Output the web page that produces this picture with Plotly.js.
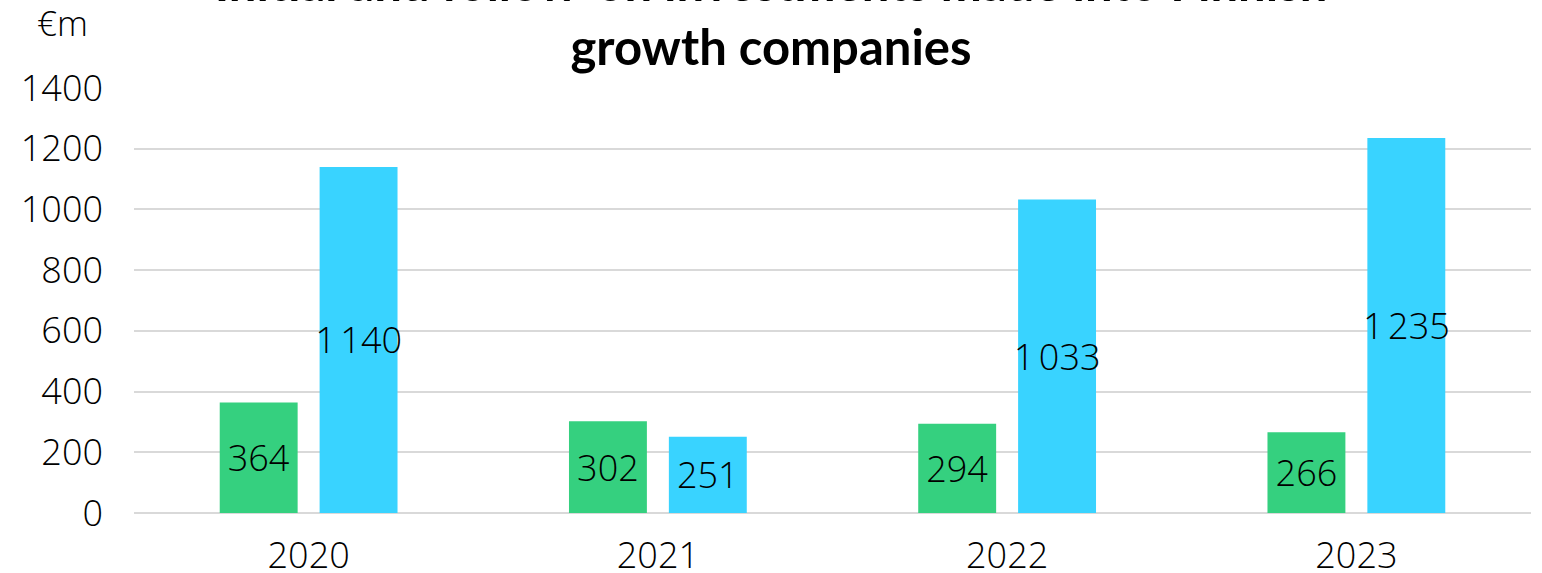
<!DOCTYPE html>
<html>
<head>
<meta charset="utf-8">
<script src="https://cdn.plot.ly/plotly-3.0.1.min.js"></script>
<style>html,body{margin:0;padding:0;background:#fff;}#chart{width:1542px;height:573px;}</style>
</head>
<body>
<div id="chart"></div>
<script>
const years = ['2020', '2021', '2022', '2023'];
const initialInvestments = [364, 302, 294, 266];
const followOnInvestments = [1140, 251, 1033, 1235];
const yTickValues = [0, 200, 400, 600, 800, 1000, 1200, 1400];
const titleText = 'Initial and follow-on investments made into Finnish<br>growth companies';
const unitLabel = '€m';

function fmt(v) {
  return v >= 1000 ? Math.floor(v / 1000) + '\u202F' + String(v % 1000).padStart(3, '0') : String(v);
}

const FONT = 'Open Sans, Lato, sans-serif';
const baseBar = {
  type: 'bar',
  x: years,
  textposition: 'inside',
  insidetextanchor: 'middle',
  constraintext: 'none',
  textangle: 0,
  insidetextfont: {family: FONT, size: 36, color: '#000', weight: 300},
  hoverinfo: 'none'
};

const data = [
  Object.assign({}, baseBar, {
    name: 'Initial',
    y: initialInvestments,
    text: initialInvestments.map(fmt),
    marker: {color: '#35D07F'}
  }),
  Object.assign({}, baseBar, {
    name: 'Follow-on',
    y: followOnInvestments,
    text: followOnInvestments.map(fmt),
    marker: {color: '#39D3FF'}
  })
];

const layout = {
  width: 1542, height: 573,
  margin: {l: 134, r: 11, t: 88, b: 60},
  paper_bgcolor: '#fff', plot_bgcolor: '#fff',
  showlegend: false,
  barmode: 'group',
  bargap: 0.428,
  bargroupgap: 0.22,
  font: {family: FONT, color: '#000'},
  title: {
    text: titleText,
    font: {family: 'Lato, sans-serif', size: 49, weight: 'bold', color: '#000'},
    x: 0.5, xref: 'container', xanchor: 'center',
    y: 0.998, yref: 'container', yanchor: 'middle'
  },
  xaxis: {
    type: 'category',
    showgrid: false, zeroline: false, showline: false,
    ticks: '',
    ticklabelstandoff: 18,
    tickfont: {family: FONT, size: 36, color: '#000', weight: 300}
  },
  yaxis: {
    range: [0, 1400],
    tickvals: yTickValues,
    ticktext: yTickValues.map(String),
    showgrid: true, gridcolor: '#d9d9d9', gridwidth: 2,
    zeroline: true, zerolinecolor: '#d9d9d9', zerolinewidth: 2,
    showline: false, ticks: '',
    ticklabelstandoff: 30,
    tickfont: {family: FONT, size: 36, color: '#000', weight: 300}
  },
  annotations: [{
    text: unitLabel, xref: 'paper', yref: 'paper', x: 0, y: 1,
    xshift: -72, yshift: 66,
    xanchor: 'center', yanchor: 'middle', showarrow: false,
    font: {family: FONT, size: 35, color: '#000', weight: 300}
  }]
};

Plotly.newPlot('chart', data, layout, {displayModeBar: false, staticPlot: true});
</script>
</body>
</html>
